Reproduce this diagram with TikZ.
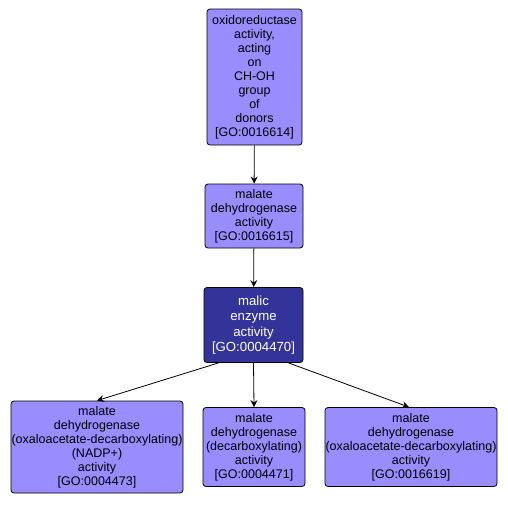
\documentclass[tikz,border=0pt]{standalone}
\usepackage{fontspec}
\setmainfont{Liberation Sans}
\usetikzlibrary{arrows.meta,positioning}
\definecolor{golight}{RGB}{153,140,255}
\definecolor{godark}{RGB}{51,51,153}
\tikzset{
  goterm/.style={draw=black,fill=golight,rounded corners=3pt,line width=0.8pt,
    align=center,inner sep=0pt,font=\fontsize{12.5}{14}\selectfont},
  gofocus/.style={goterm,fill=godark,text=white,font=\fontsize{13.2}{15.5}\selectfont},
  isa/.style={-{Stealth[length=7pt,width=7pt]},line width=0.8pt}
}

\begin{document}
\begin{tikzpicture}[x=1pt,y=-1pt]
    \useasboundingbox (0,0) rectangle (508,504);
    % GO terms
    \node[goterm,minimum width=95pt,minimum height=136pt] (oxido) at (254.5,77)
      {oxidoreductase\\activity,\\acting\\on\\CH-OH\\group\\of\\donors\\{}[GO:0016614]};
    \node[goterm,minimum width=98pt,minimum height=64pt] (mdh) at (254,216)
      {malate\\dehydrogenase\\activity\\{}[GO:0016615]};
    \node[gofocus,minimum width=99pt,minimum height=75pt] (malic) at (253.5,325)
      {malic\\enzyme\\activity\\{}[GO:0004470]};
    \node[goterm,minimum width=172pt,minimum height=92pt] (nadp) at (97,447)
      {malate\\dehydrogenase\\(oxaloacetate-decarboxylating)\\(NADP+)\\activity\\{}[GO:0004473]};
    \node[goterm,minimum width=102pt,minimum height=79pt] (decarb) at (254,447)
      {malate\\dehydrogenase\\(decarboxylating)\\activity\\{}[GO:0004471]};
    \node[goterm,minimum width=172pt,minimum height=79pt] (oxaloac) at (411,447)
      {malate\\dehydrogenase\\(oxaloacetate-decarboxylating)\\activity\\{}[GO:0016619]};
    % is_a links
    \draw[isa] (oxido) -- (mdh);
    \draw[isa] (mdh) -- (malic);
    \draw[isa] ([xshift=-35pt]malic.south) -- (nadp.north);
    \draw[isa] (malic.south) -- (decarb.north);
    \draw[isa] ([xshift=35pt]malic.south) -- ([xshift=-2pt]oxaloac.north);
\end{tikzpicture}
\end{document}
